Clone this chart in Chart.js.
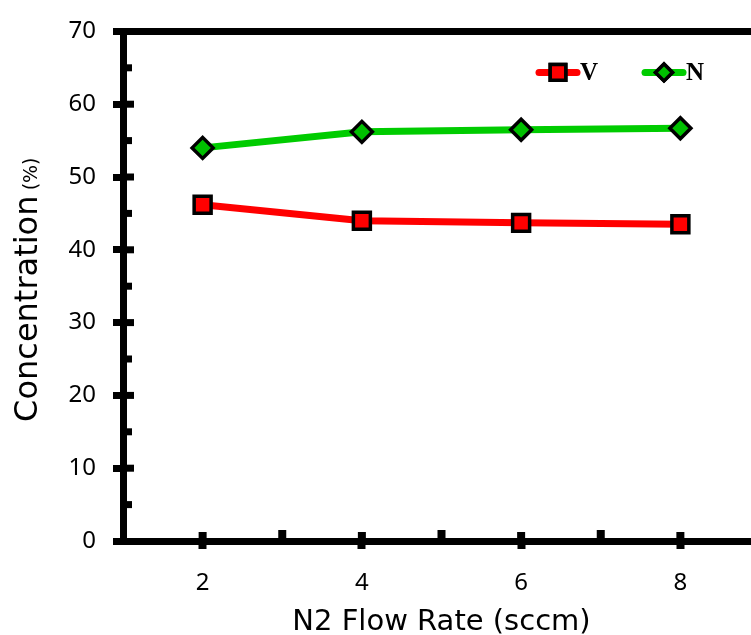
<!DOCTYPE html>
<html>
<head>
<meta charset="utf-8">
<script src="https://cdn.jsdelivr.net/npm/chart.js@4.4.1/dist/chart.umd.min.js"></script>
<style>
  html, body { margin: 0; padding: 0; background: #fff; overflow: hidden; }
  #wrap { width: 760px; height: 635px; }
</style>
</head>
<body>
<div id="wrap"><canvas id="chart" width="760" height="635"></canvas></div>
<script>
// N2 flow rate (sccm) and composition (%)
const flowRates = [2, 4, 6, 8];
const vConc = [46.2, 44.0, 43.7, 43.5];
const nConc = [54.0, 56.2, 56.5, 56.7];
const seriesNames = ['V', 'N'];
const yTitleMain = 'Concentration';
const yTitleUnit = '(%)';
const xTitle = 'N2 Flow Rate (sccm)';

const FONT = "'Noto Sans', sans-serif";
const TITLE_FONT = "'DejaVu Sans', sans-serif";

function toPoints(ys) {
    return flowRates.map((x, i) => ({ x: x, y: ys[i] }));
}

// tick marks that point into the plot, major and minor
const innerTicks = {
    id: 'innerTicks',
    afterDraw(chart) {
        const { ctx, scales } = chart;
        const xs = scales.x, ys = scales.y;
        const left = chart.chartArea.left, bottom = chart.chartArea.bottom;
        ctx.save();
        ctx.fillStyle = '#000';
        for (let v = 5; v < 70; v += 5) {
            const py = ys.getPixelForValue(v);
            const len = v % 10 === 0 ? 11 : 9;
            ctx.fillRect(left, py - 3.5, len, 7);
        }
        for (let v = 2; v <= 8; v++) {
            const px = xs.getPixelForValue(v);
            const len = v % 2 === 0 ? 9 : 11;
            ctx.fillRect(px - 4, bottom - len, 8, len);
        }
        ctx.restore();
    }
};

// y title with a smaller unit part
const yTitle = {
    id: 'yTitle',
    afterDraw(chart) {
        const { ctx, chartArea } = chart;
        ctx.save();
        const bigFont = '32px ' + TITLE_FONT;
        const smallFont = '19px ' + TITLE_FONT;
        ctx.font = bigFont;
        const w1 = ctx.measureText(yTitleMain + ' ').width;
        ctx.font = smallFont;
        const w2 = ctx.measureText(yTitleUnit).width;
        const mid = (chartArea.top + chartArea.bottom) / 2 + 1;
        ctx.translate(37, mid + (w1 + w2) / 2);
        ctx.rotate(-Math.PI / 2);
        ctx.fillStyle = '#000';
        ctx.textBaseline = 'alphabetic';
        ctx.textAlign = 'left';
        ctx.font = bigFont;
        ctx.fillText(yTitleMain, 0, 0);
        ctx.font = smallFont;
        ctx.fillText(yTitleUnit, w1 - 5, 0);
        ctx.restore();
    }
};

// legend drawn inside the plot, top right
const insideLegend = {
    id: 'insideLegend',
    afterDatasetsDraw(chart) {
        const { ctx, chartArea } = chart;
        const starts = [chartArea.left + 416, chartArea.left + 522];
        const ly = chartArea.top + 41;
        ctx.save();
        chart.data.datasets.forEach((ds, i) => {
            const x0 = starts[i];
            ctx.strokeStyle = ds.borderColor;
            ctx.lineWidth = 7;
            ctx.lineCap = 'round';
            ctx.beginPath();
            ctx.moveTo(x0, ly);
            ctx.lineTo(x0 + 38, ly);
            ctx.stroke();
            ctx.fillStyle = ds.pointBackgroundColor;
            ctx.strokeStyle = '#000';
            ctx.lineWidth = ds.pointBorderWidth;
            ctx.lineCap = 'butt';
            const r = i === 0 ? 11 : 8.5;
            Chart.helpers.drawPoint(ctx, { pointStyle: ds.pointStyle, radius: r, borderWidth: ds.pointBorderWidth }, x0 + 19, ly);
            ctx.fill();
            ctx.stroke();
            ctx.fillStyle = '#000';
            ctx.font = 'bold 25px "Liberation Serif", serif';
            ctx.textBaseline = 'middle';
            ctx.fillText(ds.label, x0 + 41, ly + 1);
        });
        ctx.restore();
    }
};

function noSidePadding(s) {
    s.paddingLeft = 0;
    s.paddingRight = 0;
}

new Chart(document.getElementById('chart'), {
    type: 'line',
    data: {
        datasets: [
            {
                label: seriesNames[0],
                data: toPoints(vConc),
                borderColor: '#ff0000',
                borderWidth: 7,
                pointStyle: 'rect',
                pointRadius: 12,
                pointBackgroundColor: '#ff0000',
                pointBorderColor: '#000',
                pointBorderWidth: 3.5
            },
            {
                label: seriesNames[1],
                data: toPoints(nConc),
                borderColor: '#00cc00',
                borderWidth: 7,
                pointStyle: 'rectRot',
                pointRadius: 10.5,
                pointBackgroundColor: '#00c000',
                pointBorderColor: '#000',
                pointBorderWidth: 3.5
            }
        ]
    },
    options: {
        responsive: false,
        animation: false,
        layout: { padding: 0, autoPadding: false },
        plugins: {
            legend: { display: false },
            tooltip: { enabled: false }
        },
        scales: {
            x: {
                type: 'linear',
                position: 'bottom',
                min: 1,
                max: 9,
                afterFit: s => { s.height = 94; noSidePadding(s); },
                ticks: {
                    stepSize: 1,
                    autoSkip: false,
                    maxRotation: 0,
                    callback: v => (v % 2 === 0 && v < 9 ? v : ''),
                    font: { family: FONT, size: 24 },
                    color: '#000',
                    padding: 20
                },
                grid: {
                    drawOnChartArea: false,
                    drawTicks: true,
                    tickLength: 8,
                    tickWidth: 8,
                    tickColor: c => (c.tick && c.tick.value % 2 === 0 && c.tick.value < 9 ? '#000' : 'rgba(0,0,0,0)')
                },
                border: { display: true, color: '#000', width: 7 },
                title: {
                    display: true,
                    text: xTitle,
                    font: { family: TITLE_FONT, size: 29, lineHeight: 0.8 },
                    color: '#000',
                    padding: { top: 0, bottom: 1 }
                }
            },
            xTop: {
                type: 'linear',
                position: 'top',
                min: 1,
                max: 9,
                afterFit: s => { s.height = 29; noSidePadding(s); },
                ticks: { display: false },
                grid: { display: false },
                border: { display: true, color: '#000', width: 7 }
            },
            y: {
                min: 0,
                max: 70,
                afterFit: s => { s.width = 123; },
                ticks: {
                    stepSize: 10,
                    font: { family: FONT, size: 24 },
                    color: '#000',
                    padding: 17
                },
                grid: {
                    drawOnChartArea: false,
                    drawTicks: true,
                    tickLength: 10,
                    tickWidth: 7,
                    tickColor: '#000'
                },
                border: { display: true, color: '#000', width: 7 }
            }
        }
    },
    plugins: [innerTicks, yTitle, insideLegend]
});
</script>
</body>
</html>
